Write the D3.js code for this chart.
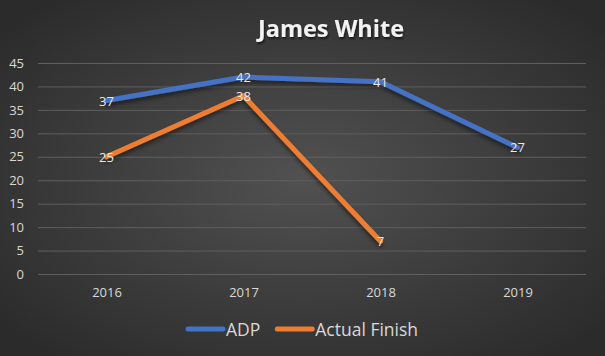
<!DOCTYPE html>
<html><head><meta charset="utf-8">
<script src="https://cdn.jsdelivr.net/npm/d3@7"></script>
<style>html,body{margin:0;padding:0;background:#3a3a3a;}svg{display:block;}</style>
</head><body>
<script>
const title = "James White";
const years = ["2016","2017","2018","2019"];
const adp = [37, 42, 41, 27];
const actualFinish = [25, 38, 7, null];
const yTicks = [0,5,10,15,20,25,30,35,40,45];
const seriesNames = ["ADP","Actual Finish"];
const colors = ["#4472C4","#ED7D31"];

const W=605,H=356;
const svg=d3.select("body").append("svg").attr("width",W).attr("height",H);
const defs=svg.append("defs");
const rg=defs.append("radialGradient").attr("id","bg").attr("cx","50%").attr("cy","50%").attr("r","65%");
rg.append("stop").attr("offset","0%").attr("stop-color","#515151");
rg.append("stop").attr("offset","100%").attr("stop-color","#2b2b2b");
const f=defs.append("filter").attr("id","sh").attr("x","-10%").attr("y","-10%").attr("width","120%").attr("height","130%");
f.append("feDropShadow").attr("dx",0).attr("dy",3).attr("stdDeviation",2).attr("flood-color","#000").attr("flood-opacity",0.5);
const ft=defs.append("filter").attr("id","tsh");
ft.append("feDropShadow").attr("dx",1).attr("dy",2).attr("stdDeviation",1.2).attr("flood-color","#000").attr("flood-opacity",0.6);

svg.append("rect").attr("width",W).attr("height",H).attr("fill","url(#bg)");

const x=d3.scalePoint().domain(years).range([38,586]).padding(0.5);
const y=d3.scaleLinear().domain([0,45]).range([274,63]);

const font="'Open Sans', 'Liberation Sans', sans-serif";
svg.append("text").attr("x",331).attr("y",37).attr("text-anchor","middle")
  .attr("font-family",font).attr("font-weight","bold").attr("font-size",23.5)
  .attr("fill","#f2f2f2").attr("filter","url(#tsh)").text(title);

const ya=svg.append("g").attr("transform","translate(38,0)")
  .call(d3.axisLeft(y).tickValues(yTicks).tickSize(-548).tickPadding(14));
ya.select(".domain").remove();
ya.selectAll("line").attr("stroke","#5f5f5f").attr("stroke-width",1);
ya.selectAll("text").attr("fill","#d9d9d9").attr("font-family",font).attr("font-size",13);

const xa=svg.append("g").attr("transform","translate(0,274)")
  .call(d3.axisBottom(x).tickSize(0).tickPadding(14));
xa.select(".domain").remove();
xa.selectAll("text").attr("fill","#d9d9d9").attr("font-family",font).attr("font-size",13);

const series=[adp,actualFinish];
const line=d3.line().defined(d=>d.v!=null).x(d=>x(d.k)).y(d=>y(d.v));
series.forEach((s,i)=>{
  const pts=years.map((k,j)=>({k,v:s[j]}));
  svg.append("path").datum(pts).attr("d",line).attr("fill","none")
    .attr("stroke",colors[i]).attr("stroke-width",5).attr("stroke-linejoin","round").attr("stroke-linecap","round")
    .attr("filter","url(#sh)");
});
series.forEach((s,i)=>{
  const pts=years.map((k,j)=>({k,v:s[j]})).filter(d=>d.v!=null);
  svg.selectAll(null).data(pts).enter().append("text")
    .attr("x",d=>x(d.k)).attr("y",d=>y(d.v)+5).attr("text-anchor","middle")
    .attr("font-family",font).attr("font-size",13).attr("fill","#e8e8e8").text(d=>d.v);
});

const lg=svg.append("g");
let lx=188;
seriesNames.forEach((n,i)=>{
  lg.append("line").attr("x1",lx).attr("x2",lx+35).attr("y1",329).attr("y2",329)
    .attr("stroke",colors[i]).attr("stroke-width",5).attr("stroke-linecap","round");
  const t=lg.append("text").attr("x",lx+38).attr("y",336).attr("font-family",font).attr("font-size",17.5)
    .attr("fill","#d9d9d9").text(n);
  lx+=38+t.node().getComputedTextLength()+17;
});
</script>
</body></html>
